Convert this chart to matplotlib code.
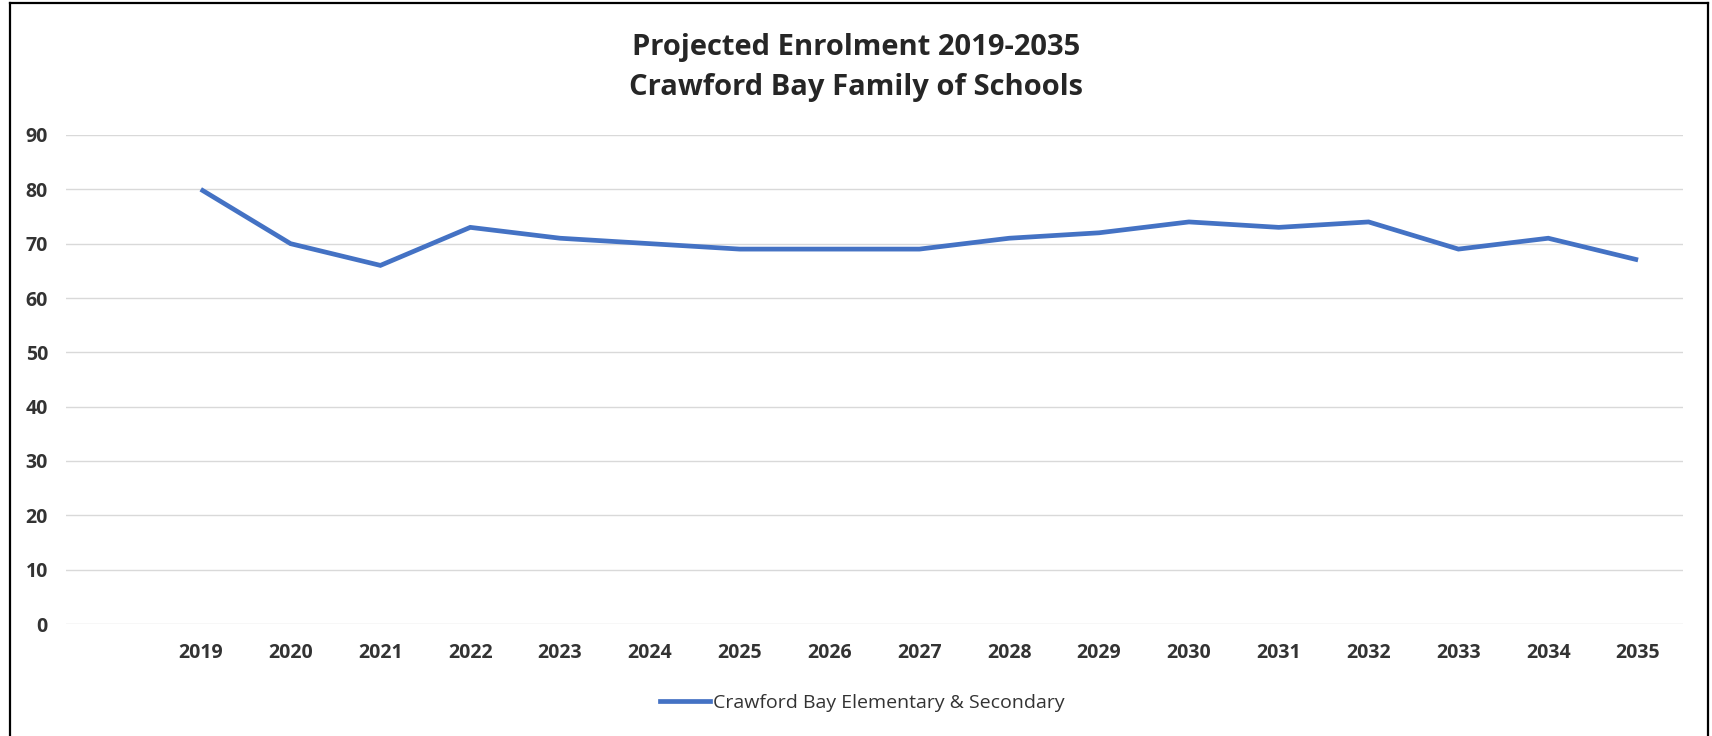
from matplotlib import pyplot as plt
from matplotlib.lines import Line2D

# DATA
years = ['', '2019', '2020', '2021', '2022', '2023', '2024', '2025', '2026',
         '2027', '2028', '2029', '2030', '2031', '2032', '2033', '2034', '2035']
enrolment = [None, 80, 70, 66, 73, 71, 70, 69, 69, 69, 71, 72, 74, 73, 74,
             69, 71, 67]
y_ticks = [0, 10, 20, 30, 40, 50, 60, 70, 80, 90]
series_name = 'Crawford Bay Elementary & Secondary'
title_lines = ['Projected Enrolment 2019-2035', 'Crawford Bay Family of Schools']

# STYLE
LINE_COLOR = '#4472C4'
GRID_COLOR = '#D9D9D9'
TEXT_COLOR = '#333333'
plt.rcParams['font.family'] = ['Open Sans', 'DejaVu Sans']

W, H = 1712, 736
fig = plt.figure(figsize=(W / 100, H / 100), dpi=100)
ax = fig.add_axes([66 / W, 1 - 624 / H, (1683 - 66) / W, (624 - 135) / H])

x_pos = list(range(len(years)))
pts = [(x, v) for x, v in zip(x_pos, enrolment) if v is not None]
ax.plot([p[0] for p in pts], [p[1] for p in pts], color=LINE_COLOR,
        linewidth=3.4, solid_capstyle='butt', solid_joinstyle='miter',
        label=series_name, zorder=3)

ax.set_xlim(-0.5, len(years) - 0.5)
ax.set_ylim(0, 90)
ax.set_yticks(y_ticks)
ax.set_yticklabels([str(t) for t in y_ticks], fontweight='bold')
ax.set_xticks(x_pos)
ax.set_xticklabels(years, fontweight='bold')
ax.grid(axis='y', color=GRID_COLOR, linewidth=1.0)
ax.set_axisbelow(True)
for s in ax.spines.values():
    s.set_visible(False)
ax.tick_params(axis='both', length=0, labelsize=14, labelcolor=TEXT_COLOR)
ax.tick_params(axis='y', pad=13)
ax.tick_params(axis='x', pad=13.5)

# title
fig.text(0.5, 1 - 48 / H, title_lines[0], ha='center', va='center',
         fontsize=21, fontweight='bold', color='#262626')
fig.text(0.5, 1 - 87 / H, title_lines[1], ha='center', va='center',
         fontsize=21, fontweight='bold', color='#262626')

# legend
handle = Line2D([], [], color=LINE_COLOR, linewidth=3.4)
fig.legend([handle], [series_name], loc='center',
           bbox_to_anchor=(862 / W, 1 - 703 / H), frameon=False,
           fontsize=14, handlelength=2.6, handletextpad=0.12,
           labelcolor=TEXT_COLOR)

# outer frame
fig.add_artist(Line2D([10 / W, 10 / W], [0, 1 - 3 / H], color='black',
                      linewidth=1.6, transform=fig.transFigure))
fig.add_artist(Line2D([10 / W, 1708 / W], [1 - 3 / H, 1 - 3 / H],
                      color='black', linewidth=1.6, transform=fig.transFigure))
fig.add_artist(Line2D([1708 / W, 1708 / W], [0, 1 - 3 / H], color='black',
                      linewidth=1.6, transform=fig.transFigure))

fig.savefig('out.png', dpi=100)
